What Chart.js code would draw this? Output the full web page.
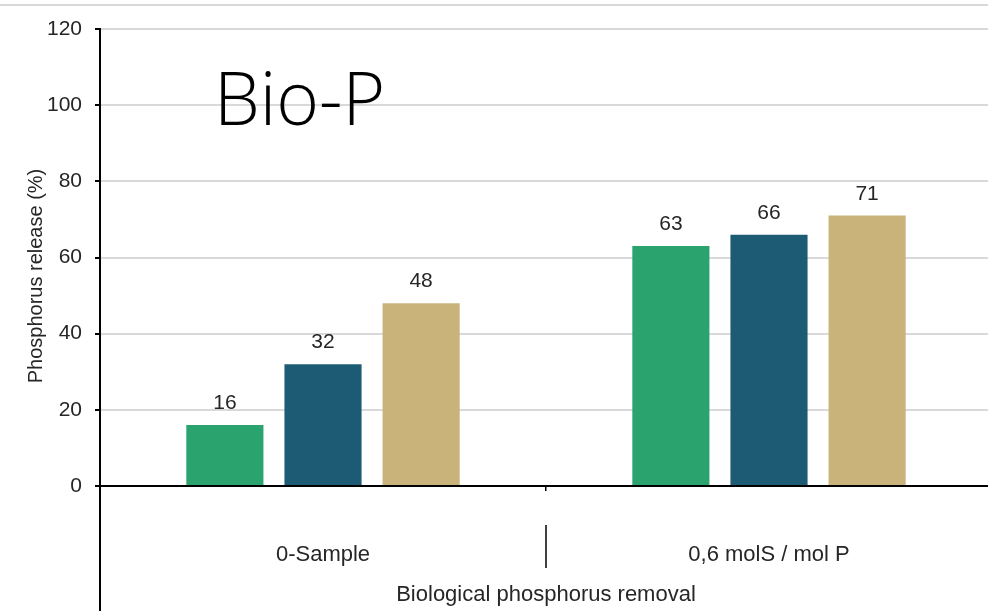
<!DOCTYPE html>
<html lang="en">
<head>
    <meta charset="UTF-8">
    <title>Bio-P</title>
    <script src="https://cdn.jsdelivr.net/npm/chart.js"></script>
    <style>
        body { margin: 0; overflow: hidden; background: #fff; }
        .chart-container { position: relative; width: 996px; height: 611px; }
    </style>
</head>
<body>
    <div class="chart-container">
        <canvas id="bioPChart"></canvas>
    </div>

    <script>
        // Chart data
        const categories = ['0-Sample', '0,6 molS / mol P'];
        const seriesNames = ['Series 1', 'Series 2', 'Series 3'];
        const series1 = [16, 63];
        const series2 = [32, 66];
        const series3 = [48, 71];
        const yTicks = [0, 20, 40, 60, 80, 100, 120];
        const colors = ['#2BA36E', '#1C5B73', '#C9B37B'];

        const FONT = '"Liberation Sans", Arial, sans-serif';

        // Draws value labels, the separators and the "Bio-P" heading
        const extras = {
            id: 'extras',
            afterDatasetsDraw(chart) {
                const ctx = chart.ctx;
                const area = chart.chartArea;
                const x = chart.scales.x;
                ctx.save();

                // top gray rule
                ctx.strokeStyle = '#d9d9d9';
                ctx.lineWidth = 2;
                ctx.beginPath();
                ctx.moveTo(0, 5);
                ctx.lineTo(chart.width, 5);
                ctx.stroke();

                // y axis continues below the zero line
                ctx.strokeStyle = '#000';
                ctx.lineWidth = 2;
                ctx.beginPath();
                ctx.moveTo(area.left, area.bottom);
                ctx.lineTo(area.left, chart.height);
                ctx.stroke();

                // separator between categories
                const sep = (x.getPixelForValue(0) + x.getPixelForValue(1)) / 2;
                ctx.lineWidth = 1.5;
                ctx.beginPath();
                ctx.moveTo(sep, 525);
                ctx.lineTo(sep, 568);
                ctx.stroke();

                // value labels
                ctx.fillStyle = '#262626';
                ctx.font = '21px ' + FONT;
                ctx.textAlign = 'center';
                ctx.textBaseline = 'alphabetic';
                chart.data.datasets.forEach((ds, i) => {
                    chart.getDatasetMeta(i).data.forEach((bar, j) => {
                        ctx.fillText(ds.data[j], bar.x, bar.y - 16);
                    });
                });

                // y axis title
                ctx.save();
                ctx.translate(36, 276);
                ctx.rotate(-Math.PI / 2);
                ctx.font = '20px ' + FONT;
                ctx.textBaseline = 'middle';
                ctx.fillText('Phosphorus release (%)', 0, 0);
                ctx.restore();

                // heading
                ctx.fillStyle = '#000';
                ctx.font = '300 73px "Open Sans", "Noto Sans", sans-serif';
                ctx.textAlign = 'left';
                ctx.fillText('Bio-P', 214, 125);

                ctx.restore();
            }
        };

        new Chart(document.getElementById('bioPChart'), {
            type: 'bar',
            data: {
                labels: categories,
                datasets: [series1, series2, series3].map((d, i) => ({
                    label: seriesNames[i],
                    data: d,
                    backgroundColor: colors[i],
                    categoryPercentage: 0.66,
                    barPercentage: 0.786
                }))
            },
            options: {
                responsive: true,
                maintainAspectRatio: false,
                animation: false,
                layout: { padding: { top: 29, right: 4, left: 0, bottom: 0 } },
                plugins: {
                    legend: { display: false },
                    tooltip: { enabled: false }
                },
                scales: {
                    x: {
                        afterFit: s => { s.height = 125; },
                        grid: {
                            offset: true,
                            drawOnChartArea: false,
                            tickLength: 5,
                            color: '#000',
                            lineWidth: 1.5
                        },
                        border: { color: '#000', width: 2 },
                        ticks: {
                            padding: 51,
                            color: '#262626',
                            font: { family: FONT, size: 22 }
                        },
                        title: {
                            display: true,
                            text: 'Biological phosphorus removal',
                            color: '#262626',
                            font: { family: FONT, size: 22 },
                            padding: { top: 2, bottom: 3 }
                        }
                    },
                    y: {
                        min: 0,
                        max: 120,
                        afterFit: s => { s.width = 100; },
                        afterBuildTicks: s => { s.ticks = yTicks.map(v => ({ value: v })); },
                        grid: {
                            color: '#d9d9d9',
                            lineWidth: 2,
                            tickLength: 5,
                            tickColor: '#000'
                        },
                        border: { color: '#000', width: 2 },
                        ticks: {
                            padding: 13,
                            color: '#262626',
                            font: { family: FONT, size: 21 }
                        }
                    }
                }
            },
            plugins: [extras]
        });
    </script>
</body>
</html>
